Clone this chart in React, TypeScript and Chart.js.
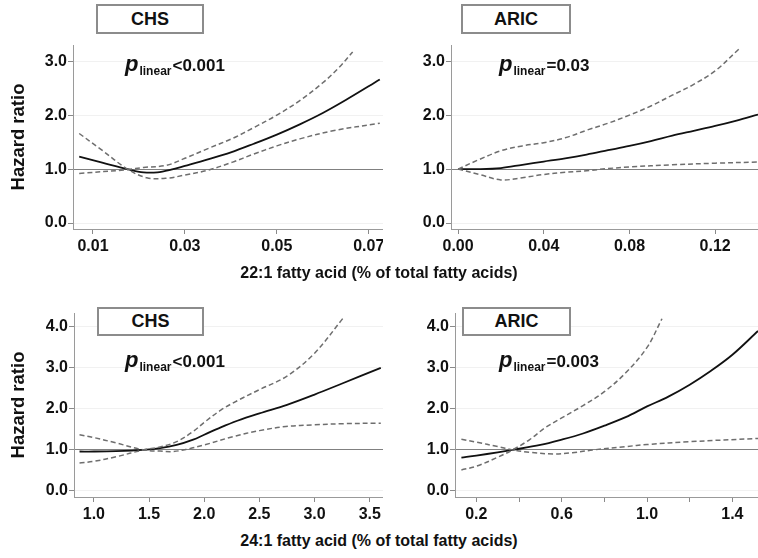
import React, { useEffect, useRef } from 'react';
import { Chart, registerables } from 'chart.js';

Chart.register(...registerables);

const FONT = "'Liberation Sans', Arial, Helvetica, sans-serif";

// ---------- Data ----------
// Panel 1: CHS, 22:1 fatty acid
const chs22Estimate: [number, number][] = [
  [0.007, 1.23], [0.012, 1.12], [0.0175, 1.0], [0.021, 0.94], [0.024, 0.94], [0.027, 0.99],
  [0.03, 1.06], [0.035, 1.18], [0.04, 1.31], [0.045, 1.47], [0.05, 1.64], [0.055, 1.83],
  [0.06, 2.04], [0.065, 2.28], [0.0724, 2.66],
];
const chs22CiSteep: [number, number][] = [
  [0.007, 1.66], [0.0115, 1.38], [0.0175, 1.0], [0.0217, 0.84], [0.026, 0.83], [0.03, 0.89],
  [0.035, 0.98], [0.0404, 1.13], [0.045, 1.28], [0.05, 1.43], [0.055, 1.56], [0.0622, 1.71],
  [0.0724, 1.85],
];
const chs22CiFlat: [number, number][] = [
  [0.007, 0.92], [0.0175, 0.99], [0.021, 1.03], [0.026, 1.07], [0.03, 1.2], [0.035, 1.38],
  [0.0404, 1.57], [0.045, 1.77], [0.05, 2.0], [0.055, 2.27], [0.06, 2.6], [0.0635, 2.88],
  [0.0665, 3.17],
];

// Panel 2: ARIC, 22:1 fatty acid
const aric22Estimate: [number, number][] = [
  [0, 1.0], [0.01, 1.0], [0.02, 1.02], [0.03, 1.08], [0.04, 1.14], [0.05, 1.2], [0.06, 1.27],
  [0.07, 1.35], [0.08, 1.43], [0.09, 1.52], [0.1, 1.62], [0.11, 1.71], [0.12, 1.8],
  [0.13, 1.9], [0.14, 2.01],
];
const aric22CiUpper: [number, number][] = [
  [0, 1.0], [0.01, 1.18], [0.02, 1.34], [0.03, 1.43], [0.04, 1.49], [0.05, 1.58], [0.06, 1.72],
  [0.07, 1.85], [0.08, 2.0], [0.09, 2.17], [0.1, 2.37], [0.11, 2.57], [0.12, 2.82], [0.131, 3.22],
];
const aric22CiLower: [number, number][] = [
  [0, 1.0], [0.01, 0.9], [0.02, 0.8], [0.03, 0.84], [0.04, 0.9], [0.05, 0.94], [0.06, 0.97],
  [0.07, 1.01], [0.08, 1.04], [0.1, 1.08], [0.12, 1.11], [0.14, 1.13],
];

// Panel 3: CHS, 24:1 fatty acid
const chs24Estimate: [number, number][] = [
  [0.87, 0.96], [1.0, 0.96], [1.2, 0.97], [1.45, 1.0], [1.6, 1.04], [1.75, 1.12], [1.9, 1.25],
  [2.0, 1.37], [2.15, 1.55], [2.3, 1.71], [2.5, 1.89], [2.75, 2.1], [3.0, 2.35], [3.25, 2.62],
  [3.6, 3.0],
];
const chs24CiUpper: [number, number][] = [
  [0.87, 0.68], [1.0, 0.72], [1.2, 0.83], [1.45, 1.0], [1.6, 1.07], [1.75, 1.2], [1.9, 1.45],
  [2.0, 1.67], [2.15, 1.97], [2.3, 2.2], [2.5, 2.47], [2.75, 2.8], [3.0, 3.36], [3.26, 4.22],
];
const chs24CiLower: [number, number][] = [
  [0.87, 1.37], [1.0, 1.3], [1.2, 1.17], [1.45, 1.0], [1.6, 0.97], [1.72, 0.96], [1.85, 1.02],
  [2.0, 1.12], [2.27, 1.33], [2.5, 1.47], [2.74, 1.57], [3.0, 1.61], [3.26, 1.64], [3.6, 1.65],
];

// Panel 4: ARIC, 24:1 fatty acid
const aric24Estimate: [number, number][] = [
  [0.13, 0.81], [0.2, 0.86], [0.3, 0.94], [0.37, 1.0], [0.5, 1.12], [0.6, 1.25], [0.7, 1.4],
  [0.8, 1.59], [0.9, 1.8], [1.0, 2.06], [1.1, 2.3], [1.2, 2.59], [1.3, 2.93], [1.4, 3.32],
  [1.52, 3.9],
];
const aric24CiUpper: [number, number][] = [
  [0.13, 0.51], [0.2, 0.6], [0.3, 0.82], [0.37, 1.0], [0.45, 1.25], [0.52, 1.53], [0.6, 1.78],
  [0.7, 2.08], [0.8, 2.42], [0.9, 2.88], [1.0, 3.5], [1.07, 4.2],
];
const aric24CiLower: [number, number][] = [
  [0.13, 1.26], [0.2, 1.19], [0.3, 1.08], [0.37, 1.0], [0.45, 0.94], [0.56, 0.9], [0.65, 0.93],
  [0.75, 1.0], [0.9, 1.08], [1.0, 1.13], [1.2, 1.2], [1.52, 1.28],
];

// Tick values
const chs22XTicks = [0.01, 0.03, 0.05, 0.07];
const aric22XTicks = [0.0, 0.04, 0.08, 0.12];
const chs24XTicks = [1.0, 1.5, 2.0, 2.5, 3.0, 3.5];
const aric24XTicks = [0.2, 0.4, 0.6, 0.8, 1.0, 1.2, 1.4];
const aric24XLabeled = [0.2, 0.6, 1.0, 1.4];
const topYTicks = [0, 1, 2, 3];
const bottomYTicks = [0, 1, 2, 3, 4];

// Text
const cohortLabels = ['CHS', 'ARIC', 'CHS', 'ARIC'];
const pValues = ['<0.001', '=0.03', '<0.001', '=0.003'];
const xTitles = ['22:1 fatty acid (% of total fatty acids)', '24:1 fatty acid (% of total fatty acids)'];
const yTitle = 'Hazard ratio';

// ---------- Panel drawing ----------
type PanelCfg = {
  left: number; top: number; width: number; height: number;
  yWidth: number; areaTop: number; areaBottom: number;
  xMin: number; xMax: number; xTicks: number[]; xLabeled: number[]; xDec: number;
  yMin: number; yMax: number; yTicks: number[];
  estimate: [number, number][]; ciA: [number, number][]; ciB: [number, number][];
  showYTitle: boolean;
};

const near = (a: number, b: number) => Math.abs(a - b) < 1e-9;

function Panel({ cfg }: { cfg: PanelCfg }) {
  const ref = useRef<HTMLCanvasElement | null>(null);
  useEffect(() => {
    const c = cfg;
    const toPts = (arr: [number, number][]) => arr.map(([x, y]) => ({ x, y }));
    const dashed = (arr: [number, number][]) => ({
      data: toPts(arr),
      showLine: true,
      pointRadius: 0,
      borderColor: '#6e6e6e',
      borderWidth: 1.5,
      borderDash: [5, 3],
      tension: 0.35,
      fill: false,
    });
    const chart = new Chart(ref.current as HTMLCanvasElement, {
      type: 'scatter',
      data: {
        datasets: [
          dashed(c.ciA),
          dashed(c.ciB),
          {
            data: toPts(c.estimate),
            showLine: true,
            pointRadius: 0,
            borderColor: '#111111',
            borderWidth: 1.8,
            tension: 0.35,
            fill: false,
          },
        ],
      },
      options: {
        animation: false,
        responsive: false,
        maintainAspectRatio: false,
        events: [],
        layout: { padding: { top: c.areaTop, left: 0, right: 0, bottom: 0 } },
        plugins: { legend: { display: false }, tooltip: { enabled: false } },
        scales: {
          x: {
            type: 'linear',
            min: c.xMin,
            max: c.xMax,
            afterBuildTicks: (s: any) => { s.ticks = c.xTicks.map((v) => ({ value: v })); },
            afterFit: (s: any) => {
              s.height = c.height - c.areaBottom;
              s.paddingLeft = 0;
              s.paddingRight = 0;
            },
            ticks: {
              autoSkip: false,
              maxRotation: 0,
              padding: 3,
              color: '#111',
              font: { family: FONT, size: 16, weight: 'bold' },
              callback: (v: any) => (c.xLabeled.some((l) => near(l, Number(v))) ? Number(v).toFixed(c.xDec) : ''),
            },
            grid: { drawOnChartArea: false, drawTicks: true, tickLength: 5, tickColor: '#8a8a8a' },
            border: { color: '#9a9a9a', width: 1 },
          },
          y: {
            type: 'linear',
            min: c.yMin,
            max: c.yMax,
            afterBuildTicks: (s: any) => { s.ticks = c.yTicks.map((v) => ({ value: v })); },
            afterFit: (s: any) => {
              s.width = c.yWidth;
              s.paddingTop = 0;
              s.paddingBottom = 0;
            },
            ticks: {
              padding: 1,
              color: '#111',
              font: { family: FONT, size: 16, weight: 'bold' },
              callback: (v: any) => Number(v).toFixed(1),
            },
            grid: {
              drawTicks: true,
              tickLength: 5,
              tickColor: '#8a8a8a',
              color: (ctx: any) => (ctx.tick && near(ctx.tick.value, 1) ? '#808080' : '#f1f1f1'),
              lineWidth: 1,
            },
            border: { color: '#9a9a9a', width: 1 },
            title: {
              display: c.showYTitle,
              text: yTitle,
              color: '#111',
              font: { family: FONT, size: 18.5, weight: 'bold' },
              padding: { top: 8, bottom: 0 },
            },
          },
        },
      } as any,
    });
    return () => chart.destroy();
  }, []);
  return (
    <canvas
      ref={ref}
      width={cfg.width}
      height={cfg.height}
      style={{ position: 'absolute', left: cfg.left, top: cfg.top, width: cfg.width, height: cfg.height, display: 'block' }}
    />
  );
}

const panels: PanelCfg[] = [
  {
    left: 0, top: 0, width: 383, height: 260, yWidth: 73, areaTop: 45, areaBottom: 229,
    xMin: 0.00565, xMax: 0.0731, xTicks: chs22XTicks, xLabeled: chs22XTicks, xDec: 2,
    yMin: -0.11, yMax: 3.3, yTicks: topYTicks,
    estimate: chs22Estimate, ciA: chs22CiSteep, ciB: chs22CiFlat, showYTitle: true,
  },
  {
    left: 383, top: 0, width: 375, height: 260, yWidth: 68, areaTop: 45, areaBottom: 229,
    xMin: -0.0033, xMax: 0.14, xTicks: aric22XTicks, xLabeled: aric22XTicks, xDec: 2,
    yMin: -0.11, yMax: 3.3, yTicks: topYTicks,
    estimate: aric22Estimate, ciA: aric22CiUpper, ciB: aric22CiLower, showYTitle: false,
  },
  {
    left: 0, top: 270, width: 383, height: 260, yWidth: 74, areaTop: 43, areaBottom: 227,
    xMin: 0.82, xMax: 3.62, xTicks: chs24XTicks, xLabeled: chs24XTicks, xDec: 1,
    yMin: -0.15, yMax: 4.34, yTicks: bottomYTicks,
    estimate: chs24Estimate, ciA: chs24CiUpper, ciB: chs24CiLower, showYTitle: true,
  },
  {
    left: 383, top: 270, width: 375, height: 260, yWidth: 72, areaTop: 43, areaBottom: 227,
    xMin: 0.1, xMax: 1.52, xTicks: aric24XTicks, xLabeled: aric24XLabeled, xDec: 1,
    yMin: -0.15, yMax: 4.34, yTicks: bottomYTicks,
    estimate: aric24Estimate, ciA: aric24CiUpper, ciB: aric24CiLower, showYTitle: false,
  },
];

const boxPos = [
  { left: 96, top: 4, width: 108, height: 30 },
  { left: 461, top: 4, width: 110, height: 30 },
  { left: 97, top: 307, width: 107, height: 29 },
  { left: 462, top: 307, width: 109, height: 29 },
];
const pPos = [
  { left: 125, top: 54 },
  { left: 499, top: 54 },
  { left: 125, top: 350 },
  { left: 499, top: 350 },
];

export default function App() {
  useEffect(() => {
    document.body.style.margin = '0';
  }, []);
  return (
    <div style={{ position: 'absolute', left: 0, top: 0, width: 758, height: 558, background: '#fff', overflow: 'hidden', fontFamily: FONT }}>
      {panels.map((p, i) => <Panel key={i} cfg={p} />)}
      {boxPos.map((b, i) => (
        <div
          key={'b' + i}
          style={{
            position: 'absolute', left: b.left, top: b.top, width: b.width, height: b.height,
            boxSizing: 'border-box', border: '2px solid #8c8c8c', background: '#fff',
            display: 'flex', alignItems: 'center', justifyContent: 'center',
            fontWeight: 'bold', fontSize: 18, color: '#111',
          }}
        >
          {cohortLabels[i]}
        </div>
      ))}
      {pPos.map((p, i) => (
        <div
          key={'p' + i}
          style={{
            position: 'absolute', left: p.left, top: p.top, whiteSpace: 'nowrap',
            fontWeight: 'bold', fontSize: 17, lineHeight: '20px', color: '#111',
          }}
        >
          <span style={{ fontStyle: 'italic', fontSize: 22 }}>p</span>
          <span style={{ fontSize: 12, position: 'relative', top: 4, marginLeft: 1 }}>linear</span>
          <span style={{ marginLeft: 1 }}>{pValues[i]}</span>
        </div>
      ))}
      {xTitles.map((t, i) => (
        <div
          key={'x' + i}
          style={{
            position: 'absolute', left: 0, width: 758, top: i === 0 ? 263 : 531, textAlign: 'center',
            fontWeight: 'bold', fontSize: 16, lineHeight: '20px', color: '#111',
          }}
        >
          {t}
        </div>
      ))}
    </div>
  );
}
